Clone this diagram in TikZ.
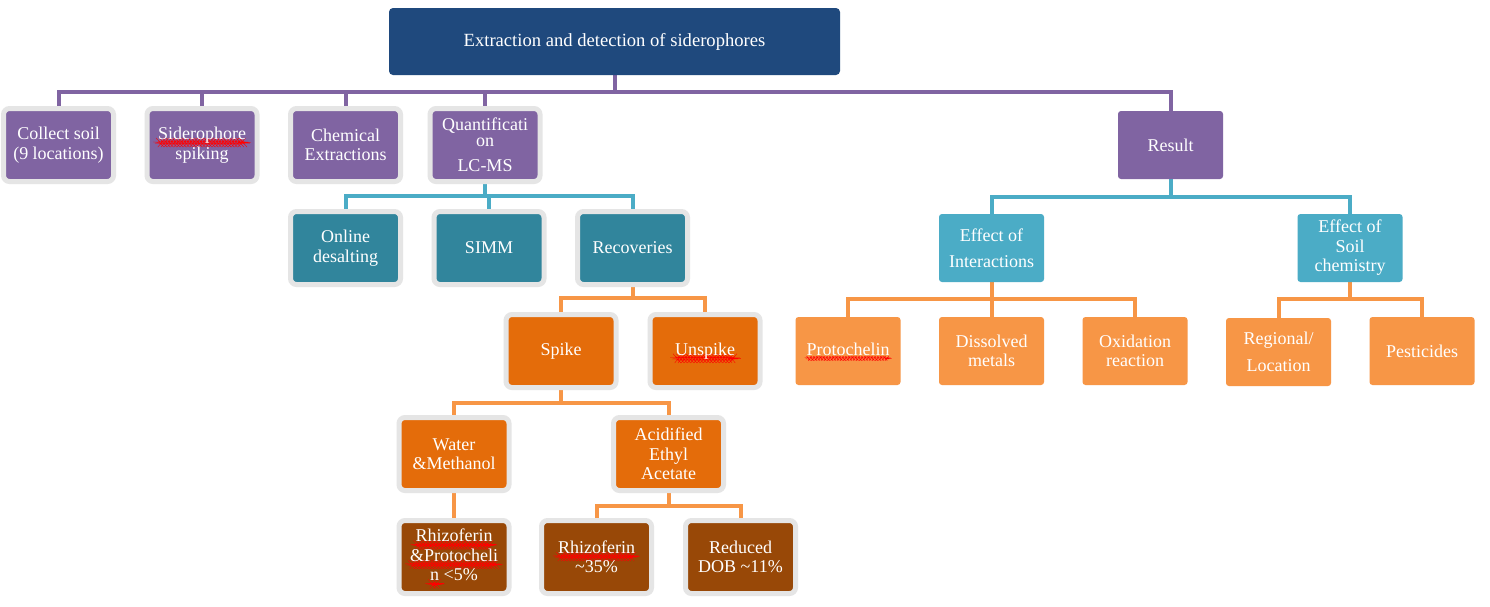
\documentclass[tikz,border=0pt]{standalone}
\usepackage{fontspec}
\setmainfont{Liberation Serif}
\usetikzlibrary{backgrounds,decorations.pathmorphing}
\newdimen\spellwd
\newcommand\spellw[1]{\setbox0\hbox{#1}\spellwd=\wd0\relax\leavevmode\rlap{\lower3pt\hbox{\tikz[baseline=0pt,x=1pt,y=1pt]\draw[red,line width=0.35pt,decorate,decoration={snake,amplitude=0.6pt,segment length=3.2pt}](0pt,0pt)--(\spellwd,0pt);}}\box0\relax}
\definecolor{titleblue}{HTML}{1F497D}
\definecolor{cpurple}{HTML}{8064A2}
\definecolor{cteal}{HTML}{31859C}
\definecolor{ccyan}{HTML}{4BACC6}
\definecolor{corange}{HTML}{E46C0A}
\definecolor{clight}{HTML}{F79646}
\definecolor{cbrown}{HTML}{984807}
\definecolor{boxgray}{HTML}{E5E5E5}
\tikzset{
  box/.style={rounded corners=3pt, text=white, align=center, inner sep=0pt,
    font=\fontsize{18}{19.5}\selectfont, minimum width=105pt, minimum height=68pt},
  gbox/.style={box, draw=boxgray, line width=5pt, rounded corners=6pt,
    minimum width=110pt, minimum height=73pt},
  conn/.style={line width=4pt},
  pconn/.style={conn, draw=cpurple},
  cconn/.style={conn, draw=ccyan},
  oconn/.style={conn, draw=clight}
}
\begin{document}
\begin{tikzpicture}[x=1pt,y=-1pt]
\useasboundingbox (0,0) rectangle (1490,606);
% title
\node[fill=titleblue, rounded corners=4pt, text=white, minimum width=451pt, minimum height=67pt,
  inner sep=0pt, font=\fontsize{18.6}{21}\selectfont] (title) at (614.5,41.5)
  {Extraction and detection of siderophores};
% row 1
\node[gbox, fill=cpurple] (collect) at (58.5,145) {Collect soil\\(9 locations)};
\node[gbox, fill=cpurple] (sidero) at (202,145) {\spellw{Siderophore}\\spiking};
\node[gbox, fill=cpurple] (chem) at (345.5,145) {Chemical\\Extractions};
\node[gbox, fill=cpurple, font=\fontsize{18}{15.5}\selectfont] (quant) at (485,145) {Quantificati\\on\\[10pt]LC-MS};
\node[box, fill=cpurple] (result) at (1170.5,145) {Result};
% row 2
\node[gbox, fill=cteal] (online) at (345.5,248) {Online\\desalting};
\node[gbox, fill=cteal] (simm) at (489,248) {SIMM};
\node[gbox, fill=cteal] (recov) at (632.5,248) {Recoveries};
\node[box, fill=ccyan] (effint) at (991.5,248) {Effect of\\[7pt]Interactions};
\node[box, fill=ccyan] (effsoil) at (1350,248) {Effect of\\Soil\\chemistry};
% row 3
\node[gbox, fill=corange] (spike) at (561,351) {Spike};
\node[gbox, fill=corange] (unspike) at (705,351) {\spellw{Unspike}};
\node[box, fill=clight] (proto) at (848,351) {\spellw{Protochelin}};
\node[box, fill=clight] (dissolved) at (991.5,351) {Dissolved\\metals};
\node[box, fill=clight] (oxid) at (1135,351) {Oxidation\\reaction};
\node[box, fill=clight] (regional) at (1278.5,352) {Regional/\\[7pt]Location};
\node[box, fill=clight] (pest) at (1422,351) {Pesticides};
% row 4
\node[gbox, fill=corange] (water) at (454,454) {Water\\\&Methanol};
\node[gbox, fill=corange] (acid) at (668.5,454) {Acidified\\Ethyl\\Acetate};
% row 5
\node[gbox, fill=cbrown] (rp) at (454,557) {\spellw{Rhizoferin}\\\spellw{\&Protocheli}\\\spellw{n} <5\%};
\node[gbox, fill=cbrown] (rh) at (596.5,557) {\spellw{Rhizoferin}\\\textasciitilde35\%};
\node[gbox, fill=cbrown] (reduced) at (740.5,557) {Reduced\\DOB \textasciitilde11\%};
% connectors
\begin{scope}[on background layer]
\fill[white] (0,0) rectangle (1490,606);
\coordinate (pb) at (614.5,92);
\draw[pconn] (title.south) -- (title.south |- pb);
\draw[pconn] (collect.north) |- (pb) -| (result.north);
\draw[pconn] (sidero.north) -- (sidero.north |- pb);
\draw[pconn] (chem.north) -- (chem.north |- pb);
\draw[pconn] (quant.north) -- (quant.north |- pb);
\coordinate (cb) at (485,196);
\draw[cconn] (quant.south) -- (quant.south |- cb);
\draw[cconn] (online.north) |- (cb) -| (recov.north);
\draw[cconn] (simm.north) -- (simm.north |- cb);
\coordinate (ob1) at (632.5,298);
\draw[oconn] (recov.south) -- (recov.south |- ob1);
\draw[oconn] (spike.north) |- (ob1) -| (unspike.north);
\coordinate (ob2) at (561,403);
\draw[oconn] (spike.south) -- (spike.south |- ob2);
\draw[oconn] (water.north) |- (ob2) -| (acid.north);
\draw[oconn] (water.south) -- (rp.north);
\coordinate (ob3) at (668.5,506);
\draw[oconn] (acid.south) -- (acid.south |- ob3);
\draw[oconn] (rh.north) |- (ob3) -| (reduced.north);
\coordinate (cb2) at (1170.5,197);
\draw[cconn] (result.south) -- (result.south |- cb2);
\draw[cconn] (effint.north) |- (cb2) -| (effsoil.north);
\coordinate (ob4) at (991.5,299);
\draw[oconn] (effint.south) -- (effint.south |- ob4);
\draw[oconn] (proto.north) |- (ob4) -| (oxid.north);
\draw[oconn] (dissolved.north) -- (dissolved.north |- ob4);
\coordinate (ob5) at (1350,299);
\draw[oconn] (effsoil.south) -- (effsoil.south |- ob5);
\draw[oconn] (regional.north) |- (ob5) -| (pest.north);
\end{scope}
\end{tikzpicture}
\end{document}
